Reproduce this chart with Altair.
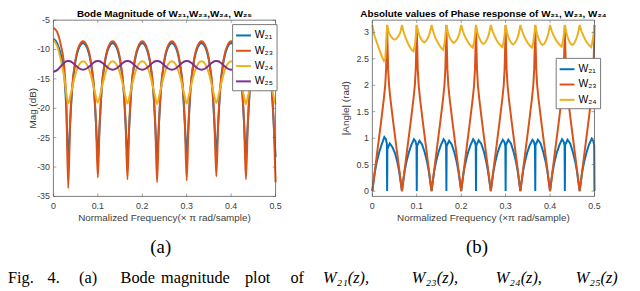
import altair as alt
import pandas as pd

# ---------------- (a) Bode magnitude (dB) ----------------
mag_freq = [0.0, 0.0083, 0.0167, 0.025, 0.029, 0.0333,
            0.0377, 0.0417, 0.05, 0.0583, 0.0667, 0.075, 0.0833, 0.0917, 0.0957, 0.1,
            0.1043, 0.1083, 0.1167, 0.125, 0.1333, 0.1417, 0.15, 0.1583, 0.1623, 0.1667,
            0.171, 0.175, 0.1833, 0.1917, 0.2, 0.2083, 0.2167, 0.225, 0.229, 0.2333,
            0.2377, 0.2417, 0.25, 0.2583, 0.2667, 0.275, 0.2833, 0.2917, 0.2957, 0.3,
            0.3043, 0.3083, 0.3167, 0.325, 0.3333, 0.3417, 0.35, 0.3583, 0.3623, 0.3667,
            0.371, 0.375, 0.3833, 0.3917, 0.4, 0.4083, 0.4167, 0.425, 0.429, 0.4333,
            0.4377, 0.4417, 0.45, 0.4583, 0.4667, 0.475, 0.4833, 0.4917, 0.4957, 0.5]

mag_w21 = [-8.2, -8.9, -10.9, -15.0, -20.0, -28.5,
           -22.5, -17.2, -11.9, -9.6, -8.9, -9.6, -11.9, -17.2, -22.5, -27.5,
           -22.5, -17.2, -11.9, -9.6, -8.9, -9.6, -11.9, -17.2, -22.5, -27.8,
           -22.5, -17.2, -11.9, -9.6, -8.9, -9.6, -11.9, -17.2, -22.5, -28.0,
           -22.5, -17.2, -11.9, -9.6, -8.9, -9.6, -11.9, -17.2, -22.5, -27.6,
           -22.5, -17.2, -11.9, -9.6, -8.9, -9.6, -11.9, -17.2, -22.5, -27.4,
           -22.5, -17.2, -11.9, -9.6, -8.9, -9.6, -11.9, -17.2, -22.5, -27.8,
           -22.5, -17.2, -11.9, -9.6, -8.9, -9.6, -11.9, -17.2, -22.5, -28.3]

mag_w23 = [-6.3, -7.0, -9.2, -13.5, -19.0, -33.6,
           -22.2, -16.9, -11.6, -9.3, -8.6, -9.3, -11.6, -16.9, -22.2, -31.8,
           -22.2, -16.9, -11.6, -9.3, -8.6, -9.3, -11.6, -16.9, -22.2, -32.1,
           -22.2, -16.9, -11.6, -9.3, -8.6, -9.3, -11.6, -16.9, -22.2, -32.6,
           -22.2, -16.9, -11.6, -9.3, -8.6, -9.3, -11.6, -16.9, -22.2, -32.3,
           -22.2, -16.9, -11.6, -9.3, -8.6, -9.3, -11.6, -16.9, -22.2, -31.6,
           -22.2, -16.9, -11.6, -9.3, -8.6, -9.3, -11.6, -16.9, -22.2, -32.1,
           -22.2, -16.9, -11.6, -9.3, -8.6, -9.3, -11.6, -16.9, -22.2, -32.6]

mag_w24 = [-8.4, -9.4, -11.8, -15.0, -17.4, -19.2,
           -18.0, -16.7, -14.1, -12.5, -12.0, -12.5, -14.1, -16.7, -18.0, -19.0,
           -18.0, -16.7, -14.1, -12.5, -12.0, -12.5, -14.1, -16.7, -18.0, -19.2,
           -18.0, -16.7, -14.1, -12.5, -12.0, -12.5, -14.1, -16.7, -18.0, -19.3,
           -18.0, -16.7, -14.1, -12.5, -12.0, -12.5, -14.1, -16.7, -18.0, -19.2,
           -18.0, -16.7, -14.1, -12.5, -12.0, -12.5, -14.1, -16.7, -18.0, -19.1,
           -18.0, -16.7, -14.1, -12.5, -12.0, -12.5, -14.1, -16.7, -18.0, -19.3,
           -18.0, -16.7, -14.1, -12.5, -12.0, -12.5, -14.1, -16.7, -18.0, -19.3]

mag_w25 = [-13.8, -13.5, -12.85, -12.2, -12.0, -11.95,
           -12.0, -12.17, -12.7, -13.23, -13.45, -13.23, -12.7, -12.17, -12.0, -11.95,
           -12.0, -12.17, -12.7, -13.23, -13.45, -13.23, -12.7, -12.17, -12.0, -11.95,
           -12.0, -12.17, -12.7, -13.23, -13.45, -13.23, -12.7, -12.17, -12.0, -11.95,
           -12.0, -12.17, -12.7, -13.23, -13.45, -13.23, -12.7, -12.17, -12.0, -11.95,
           -12.0, -12.17, -12.7, -13.23, -13.45, -13.23, -12.7, -12.17, -12.0, -11.95,
           -12.0, -12.17, -12.7, -13.23, -13.45, -13.23, -12.7, -12.17, -12.0, -11.95,
           -12.0, -12.17, -12.7, -13.23, -13.45, -13.23, -12.7, -12.17, -12.0, -11.95]

# ---------------- (b) |phase| (rad) ----------------
ph_freq_w21 = [0.0, 0.003, 0.006, 0.01, 0.015, 0.021, 0.027, 0.0305, 0.0327, 0.0333, 0.0339, 0.0393, 0.0453, 0.0513, 0.0563, 0.0603, 0.0633,
               0.0667, 0.0697, 0.0727, 0.0767, 0.0817, 0.0877, 0.0937, 0.0972, 0.0994, 0.1, 0.1006, 0.106, 0.112, 0.118, 0.123, 0.127, 0.13,
               0.1333, 0.1363, 0.1393, 0.1433, 0.1483, 0.1543, 0.1603, 0.1638, 0.166, 0.1667, 0.1673, 0.1727, 0.1787, 0.1847, 0.1897, 0.1937, 0.1967,
               0.2, 0.203, 0.206, 0.21, 0.215, 0.221, 0.227, 0.2305, 0.2327, 0.2333, 0.2339, 0.2393, 0.2453, 0.2513, 0.2563, 0.2603, 0.2633,
               0.2667, 0.2697, 0.2727, 0.2767, 0.2817, 0.2877, 0.2937, 0.2972, 0.2994, 0.3, 0.3006, 0.306, 0.312, 0.318, 0.323, 0.327, 0.33,
               0.3333, 0.3363, 0.3393, 0.3433, 0.3483, 0.3543, 0.3603, 0.3638, 0.366, 0.3667, 0.3673, 0.3727, 0.3787, 0.3847, 0.3897, 0.3937, 0.3967,
               0.4, 0.403, 0.406, 0.41, 0.415, 0.421, 0.427, 0.4305, 0.4327, 0.4333, 0.4339, 0.4393, 0.4453, 0.4513, 0.4563, 0.4603, 0.4633,
               0.4667, 0.4697, 0.4727, 0.4767, 0.4817, 0.4877, 0.4937, 0.4972, 0.4994, 0.5]
ph_w21 = [0, 0.2, 0.38, 0.55, 0.72, 0.88, 1.02, 0.98, 0.9, 0, 0.8, 0.9, 0.83, 0.71, 0.55, 0.38, 0.2,
          0, 0.2, 0.38, 0.55, 0.72, 0.87, 0.98, 0.94, 0.86, 0, 0.85, 0.95, 0.88, 0.73, 0.56, 0.38, 0.2,
          0, 0.2, 0.38, 0.55, 0.72, 0.87, 0.98, 0.94, 0.86, 0, 0.85, 0.95, 0.88, 0.73, 0.56, 0.38, 0.2,
          0, 0.2, 0.38, 0.55, 0.72, 0.87, 0.98, 0.94, 0.86, 0, 0.86, 0.96, 0.89, 0.74, 0.56, 0.38, 0.2,
          0, 0.2, 0.38, 0.55, 0.72, 0.87, 0.97, 0.93, 0.85, 0, 0.87, 0.97, 0.9, 0.74, 0.57, 0.39, 0.2,
          0, 0.2, 0.38, 0.55, 0.72, 0.87, 0.97, 0.93, 0.85, 0, 0.87, 0.97, 0.9, 0.74, 0.57, 0.39, 0.2,
          0, 0.2, 0.38, 0.55, 0.72, 0.87, 0.98, 0.94, 0.86, 0, 0.87, 0.97, 0.9, 0.74, 0.57, 0.39, 0.2,
          0, 0.2, 0.38, 0.55, 0.72, 0.88, 0.99, 0.95, 0.87, 0]

ph_freq_w23 = [0.0, 0.01, 0.02, 0.026, 0.029, 0.031, 0.0325, 0.0333, 0.0341, 0.0356, 0.0376, 0.0406, 0.0466, 0.0566,
               0.0667, 0.0767, 0.0867, 0.0927, 0.0957, 0.0977, 0.0992, 0.1, 0.1008, 0.1023, 0.1043, 0.1073, 0.1133, 0.1233,
               0.1333, 0.1433, 0.1533, 0.1593, 0.1623, 0.1643, 0.1658, 0.1667, 0.1675, 0.169, 0.171, 0.174, 0.18, 0.19,
               0.2, 0.21, 0.22, 0.226, 0.229, 0.231, 0.2325, 0.2333, 0.2341, 0.2356, 0.2376, 0.2406, 0.2466, 0.2566,
               0.2667, 0.2767, 0.2867, 0.2927, 0.2957, 0.2977, 0.2992, 0.3, 0.3008, 0.3023, 0.3043, 0.3073, 0.3133, 0.3233,
               0.3333, 0.3433, 0.3533, 0.3593, 0.3623, 0.3643, 0.3658, 0.3667, 0.3675, 0.369, 0.371, 0.374, 0.38, 0.39,
               0.4, 0.41, 0.42, 0.426, 0.429, 0.431, 0.4325, 0.4333, 0.4341, 0.4356, 0.4376, 0.4406, 0.4466, 0.4566,
               0.4667, 0.4767, 0.4867, 0.4927, 0.4957, 0.4977, 0.4992, 0.5]
ph_w23 = [0, 0.67, 1.33, 1.75, 2.0, 2.3, 2.8, 3.14, 2.8, 2.3, 2.0, 1.75, 1.33, 0.67,
          0, 0.67, 1.33, 1.75, 2.0, 2.3, 2.8, 3.14, 2.8, 2.3, 2.0, 1.75, 1.33, 0.67,
          0, 0.67, 1.33, 1.75, 2.0, 2.3, 2.8, 3.14, 2.8, 2.3, 2.0, 1.75, 1.33, 0.67,
          0, 0.67, 1.33, 1.75, 2.0, 2.3, 2.8, 3.14, 2.8, 2.3, 2.0, 1.75, 1.33, 0.67,
          0, 0.67, 1.33, 1.75, 2.0, 2.3, 2.8, 3.14, 2.8, 2.3, 2.0, 1.75, 1.33, 0.67,
          0, 0.67, 1.33, 1.75, 2.0, 2.3, 2.8, 3.14, 2.8, 2.3, 2.0, 1.75, 1.33, 0.67,
          0, 0.67, 1.33, 1.75, 2.0, 2.3, 2.8, 3.14, 2.8, 2.3, 2.0, 1.75, 1.33, 0.67,
          0, 0.67, 1.33, 1.75, 2.0, 2.3, 2.8, 3.14]

ph_freq_w24 = [0.0, 0.004, 0.008, 0.013, 0.018, 0.022, 0.026, 0.029, 0.031, 0.0333, 0.0373, 0.0413, 0.0458, 0.05, 0.0543, 0.0588, 0.0626,
               0.0667, 0.0707, 0.0747, 0.0797, 0.0847, 0.0887, 0.0927, 0.0957, 0.0977, 0.1, 0.104, 0.108, 0.1125, 0.1167, 0.121, 0.1255, 0.1293,
               0.1333, 0.1373, 0.1413, 0.1463, 0.1513, 0.1553, 0.1593, 0.1623, 0.1643, 0.1667, 0.1707, 0.1747, 0.1792, 0.1833, 0.1877, 0.1922, 0.196,
               0.2, 0.204, 0.208, 0.213, 0.218, 0.222, 0.226, 0.229, 0.231, 0.2333, 0.2373, 0.2413, 0.2458, 0.25, 0.2543, 0.2588, 0.2626,
               0.2667, 0.2707, 0.2747, 0.2797, 0.2847, 0.2887, 0.2927, 0.2957, 0.2977, 0.3, 0.304, 0.308, 0.3125, 0.3167, 0.321, 0.3255, 0.3293,
               0.3333, 0.3373, 0.3413, 0.3463, 0.3513, 0.3553, 0.3593, 0.3623, 0.3643, 0.3667, 0.3707, 0.3747, 0.3792, 0.3833, 0.3877, 0.3922, 0.396,
               0.4, 0.404, 0.408, 0.413, 0.418, 0.422, 0.426, 0.429, 0.431, 0.4333, 0.4373, 0.4413, 0.4458, 0.45, 0.4543, 0.4588, 0.4626,
               0.4667, 0.4707, 0.4747, 0.4797, 0.4847, 0.4887, 0.4927, 0.4957, 0.4977, 0.5]
ph_w24 = [3.14, 2.96, 2.86, 2.74, 2.62, 2.53, 2.46, 2.5, 2.75, 3.14, 2.99, 2.93, 2.88, 2.86, 2.88, 2.93, 2.99,
          3.14, 3.0, 2.9, 2.8, 2.72, 2.67, 2.64, 2.76, 2.9, 3.14, 2.99, 2.9, 2.84, 2.81, 2.84, 2.9, 2.99,
          3.14, 3.01, 2.91, 2.82, 2.75, 2.7, 2.67, 2.78, 2.92, 3.14, 2.98, 2.89, 2.83, 2.8, 2.83, 2.89, 2.98,
          3.14, 3.02, 2.93, 2.85, 2.78, 2.74, 2.71, 2.82, 2.94, 3.14, 2.97, 2.88, 2.81, 2.78, 2.81, 2.88, 2.97,
          3.14, 3.02, 2.94, 2.85, 2.79, 2.75, 2.72, 2.83, 2.95, 3.14, 2.97, 2.87, 2.8, 2.77, 2.8, 2.87, 2.97,
          3.14, 3.02, 2.93, 2.85, 2.78, 2.74, 2.71, 2.82, 2.94, 3.14, 2.97, 2.87, 2.79, 2.76, 2.79, 2.87, 2.97,
          3.14, 3.02, 2.94, 2.86, 2.8, 2.76, 2.73, 2.83, 2.95, 3.14, 2.97, 2.87, 2.79, 2.76, 2.79, 2.87, 2.97,
          3.14, 3.02, 2.94, 2.85, 2.79, 2.75, 2.72, 2.83, 2.95, 3.14]

# ---------------- labels ----------------
series_a = ["W₂₁", "W₂₃", "W₂₄", "W₂₅"]
series_b = ["W₂₁", "W₂₃", "W₂₄"]
colors = ["#0072BD", "#D95319", "#EDB120", "#7E2F8E"]
x_ticks = [0, 0.1, 0.2, 0.3, 0.4, 0.5]
ya_ticks = [-35, -30, -25, -20, -15, -10, -5]
yb_ticks = [0, 0.5, 1, 1.5, 2, 2.5, 3]
title_a = "Bode Magnitude of W₂₁,W₂₃,W₂₄, W₂₅"
title_b = "Absolute values of Phase response of W₂₁, W₂₃, W₂₄"
xtitle_a = "Normalized Frequency(× π rad/sample)"
xtitle_b = "Normalized Frequency (×π rad/sample)"
ytitle_a = "Mag (dB)"
ytitle_b = "|Angle| (rad)"
caption_words = ["Fig.", "4.", "(a)", "Bode", "magnitude", "plot", "of"]
caption_math = ["W₂₁(z),", "W₂₃(z),", "W₂₄(z),", "W₂₅(z)"]


def long_df(items):
    rows = []
    for name, xs, ys in items:
        if len(xs) != len(ys):
            raise ValueError(f"{name}: {len(xs)} vs {len(ys)}")
        for i, (x, y) in enumerate(zip(xs, ys)):
            rows.append({"f": x, "v": y, "s": name, "i": i})
    return pd.DataFrame(rows)


df_a = long_df([(series_a[0], mag_freq, mag_w21), (series_a[1], mag_freq, mag_w23),
                (series_a[2], mag_freq, mag_w24), (series_a[3], mag_freq, mag_w25)])
df_b = long_df([(series_b[0], ph_freq_w21, ph_w21), (series_b[1], ph_freq_w23, ph_w23),
                (series_b[2], ph_freq_w24, ph_w24)])


def tick_df(vals):
    return pd.DataFrame({"t": vals, "lab": [f"{v:g}" for v in vals]})


# ---------------- layout / style ----------------
FONT = "Liberation Sans"
SERIF = "Liberation Serif"
GRAY = "#404040"
FRAME = "#5a5a5a"
TOTAL_W, TOTAL_H = 632, 283
PLOT_TOP, PLOT_BOTTOM = 10.5, 189
XA_RANGE = [46, 271]
XB_RANGE = [369, 594]
XDOM = [0, 0.5]


def panel_layers(df, interp, ydom, yticks, xrange, series, cols, leg_xy):
    SX = alt.Scale(domain=XDOM, range=xrange, nice=False, zero=False, padding=0)
    SY = alt.Scale(domain=ydom, range=[PLOT_BOTTOM, PLOT_TOP], nice=False, zero=False, padding=0)
    leg = alt.Legend(title=None, orient="none", legendX=leg_xy[0], legendY=leg_xy[1], direction="vertical",
                     symbolType="stroke", symbolSize=225, symbolStrokeWidth=2,
                     labelFont=FONT, labelFontSize=10.5, labelColor="black", labelOffset=3,
                     strokeColor="#777777", fillColor="white", padding=3, rowPadding=1.5,
                     cornerRadius=0)
    lines = alt.Chart(df).mark_line(interpolate=interp, strokeWidth=2).encode(
        x=alt.X("f:Q", scale=SX, axis=None),
        y=alt.Y("v:Q", scale=SY, axis=None),
        color=alt.Color("s:N", scale=alt.Scale(domain=series, range=cols), legend=leg),
        order="i:Q",
    )
    one = pd.DataFrame({"k": [0]})
    frame = alt.Chart(one).mark_rect(fillOpacity=0, stroke=FRAME, strokeWidth=0.8).encode(
        x=alt.XDatum(XDOM[0], scale=SX, axis=None), x2=alt.X2Datum(XDOM[1]),
        y=alt.YDatum(ydom[0], scale=SY, axis=None), y2=alt.Y2Datum(ydom[1]),
    )
    xt = tick_df(x_ticks)
    yt = tick_df(yticks)
    xlab = alt.Chart(xt).mark_text(baseline="top", dy=5.5, font=FONT, fontSize=9, color=GRAY).encode(
        x=alt.X("t:Q", scale=SX, axis=None), y=alt.YDatum(ydom[0], scale=SY, axis=None), text="lab:N")
    ylab = alt.Chart(yt).mark_text(align="right", baseline="middle", dx=-3.5, font=FONT, fontSize=9,
                                   color=GRAY).encode(
        y=alt.Y("t:Q", scale=SY, axis=None), x=alt.XDatum(XDOM[0], scale=SX, axis=None), text="lab:N")
    tk = dict(size=3, thickness=0.8, color=FRAME)
    t_bot = alt.Chart(xt).mark_tick(orient="vertical", yOffset=-1.5, **tk).encode(
        x=alt.X("t:Q", scale=SX, axis=None), y=alt.YDatum(ydom[0], scale=SY, axis=None))
    t_top = alt.Chart(xt).mark_tick(orient="vertical", yOffset=1.5, **tk).encode(
        x=alt.X("t:Q", scale=SX, axis=None), y=alt.YDatum(ydom[1], scale=SY, axis=None))
    t_left = alt.Chart(yt).mark_tick(orient="horizontal", xOffset=1.5, **tk).encode(
        y=alt.Y("t:Q", scale=SY, axis=None), x=alt.XDatum(XDOM[0], scale=SX, axis=None))
    t_right = alt.Chart(yt).mark_tick(orient="horizontal", xOffset=-1.5, **tk).encode(
        y=alt.Y("t:Q", scale=SY, axis=None), x=alt.XDatum(XDOM[1], scale=SX, axis=None))
    return [lines, frame, t_bot, t_top, t_left, t_right, xlab, ylab]


def text(txt, x, y, size, font=FONT, weight="normal", align="center", baseline="middle",
         color="black", style="normal", angle=0):
    return alt.Chart(pd.DataFrame({"t": [txt]})).mark_text(
        align=align, baseline=baseline, font=font, fontSize=size, fontWeight=weight,
        fontStyle=style, color=color, angle=angle
    ).encode(x=alt.value(x), y=alt.value(y), text="t:N")


layers_a = panel_layers(df_a, "monotone", [-35, -5], ya_ticks, XA_RANGE, series_a, colors, (227, 14.5))
layers_b = panel_layers(df_b, "linear", [-0.1, 3.23], yb_ticks, XB_RANGE, series_b, colors[:3], (554.7, 48.7))

mid_y = (PLOT_TOP + PLOT_BOTTOM) / 2
cap_y = 276.5
cap_x = [0, 40, 72, 114, 155, 240, 286]
math_x = [319, 409, 494, 575]
texts = [
    text(title_a, sum(XA_RANGE) / 2, 7.6, 10, weight="bold", baseline="alphabetic"),
    text(title_b, sum(XB_RANGE) / 2, 7.6, 10, weight="bold", baseline="alphabetic"),
    text(xtitle_a, sum(XA_RANGE) / 2, 211.3, 10, color=GRAY),
    text(xtitle_b, sum(XB_RANGE) / 2, 211.3, 10, color=GRAY),
    text(ytitle_a, 25, mid_y, 10, color=GRAY, angle=270),
    text(ytitle_b, 342, mid_y, 10, color=GRAY, angle=270),
    text("(a)", 154.7, 240.3, 19, font=SERIF),
    text("(b)", 475, 240.3, 19, font=SERIF),
]
for w, cx in zip(caption_words, cap_x):
    texts.append(text(w, cx, cap_y, 16.5, font=SERIF, align="left", baseline="alphabetic"))
for w, cx in zip(caption_math, math_x):
    texts.append(text(w, cx, cap_y, 16.5, font=SERIF, align="left", baseline="alphabetic", style="italic"))

chart = alt.layer(*layers_a, *layers_b, *texts).resolve_scale(
    x="independent", y="independent", color="independent"
).properties(
    width=TOTAL_W, height=TOTAL_H,
    autosize=alt.AutoSizeParams(type="none"),
    padding=0,
    background="white",
).configure_view(strokeWidth=0)

chart.save("out.html", embed_options={"renderer": "svg", "actions": False})
